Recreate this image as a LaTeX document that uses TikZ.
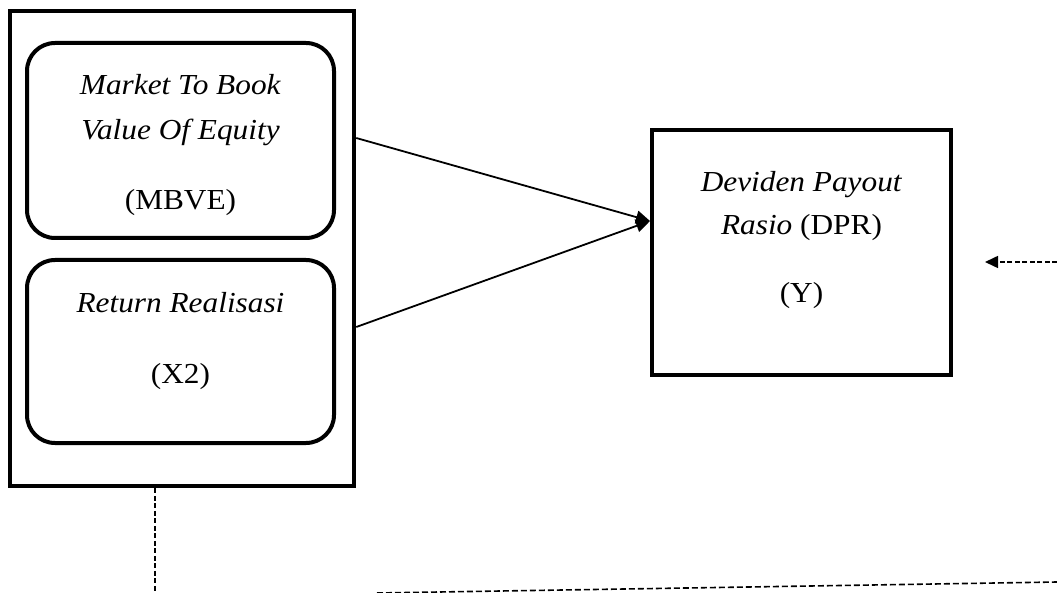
\documentclass[tikz,border=0pt]{standalone}
\usepackage{fontspec}
\newfontfamily\lblfont{Liberation Serif}[FakeStretch=1.08]
\usetikzlibrary{arrows.meta}
\begin{document}
\begin{tikzpicture}[x=1pt,y=-1pt,
  outerbox/.style={draw, line width=4.5pt, rectangle, inner sep=0pt},
  varbox/.style={draw, line width=4pt, rectangle, rounded corners=28pt, inner sep=0pt},
  depbox/.style={draw, line width=4pt, rectangle, inner sep=0pt},
  link/.style={line width=1.8pt, -{Triangle[length=14pt,width=13pt]}},
  dashlink/.style={line width=1.6pt, dash pattern=on 5pt off 2.5pt},
  lbl/.style={font=\lblfont\fontsize{29}{34}\selectfont, inner sep=0pt, anchor=base}]
\useasboundingbox (0,0) rectangle (1057,593);
% boxes
\node[outerbox, minimum width=344pt, minimum height=475pt] (outer) at (182,248.5) {};
\node[varbox, minimum width=307pt, minimum height=195pt] (mbve) at (180.5,140.5) {};
\node[varbox, minimum width=307pt, minimum height=183pt] (ret) at (180.5,351.5) {};
\node[depbox, minimum width=299pt, minimum height=245pt] (dpr) at (801.5,252.5) {};
% labels
\node[lbl] (m1) at (180.5,95) {\textit{Market To Book}};
\node[lbl] (m2) at (180.5,140) {\textit{Value Of Equity}};
\node[lbl] (m3) at (180.5,210) {(MBVE)};
\node[lbl] (r1) at (180.5,313) {\textit{Return Realisasi}};
\node[lbl] (r2) at (180.5,383) {(X2)};
\node[lbl] (d1) at (801.5,192) {\textit{Deviden Payout}};
\node[lbl] (d2) at (801.5,235) {\textit{Rasio} (DPR)};
\node[lbl] (d3) at (801.5,303) {(Y)};
% connectors
\draw[link] (outer.east |- 0,138) -- (dpr.west |- 0,221);
\draw[link] (outer.east |- 0,327) -- (dpr.west |- 0,221);
\coordinate (eR) at (1057,262);
\coordinate (eT) at (985,262);
\draw[dashlink, -{Triangle[length=13pt,width=12pt]}] (eR) -- (eT);
\coordinate (vB) at (155,593);
\draw[dashlink] (outer.south -| vB) -- (vB);
\coordinate (hL) at (377,593);
\coordinate (hR) at (1057,582);
\draw[dashlink, dash pattern=on 6pt off 3pt] (hL) -- (hR);
\end{tikzpicture}
\end{document}
